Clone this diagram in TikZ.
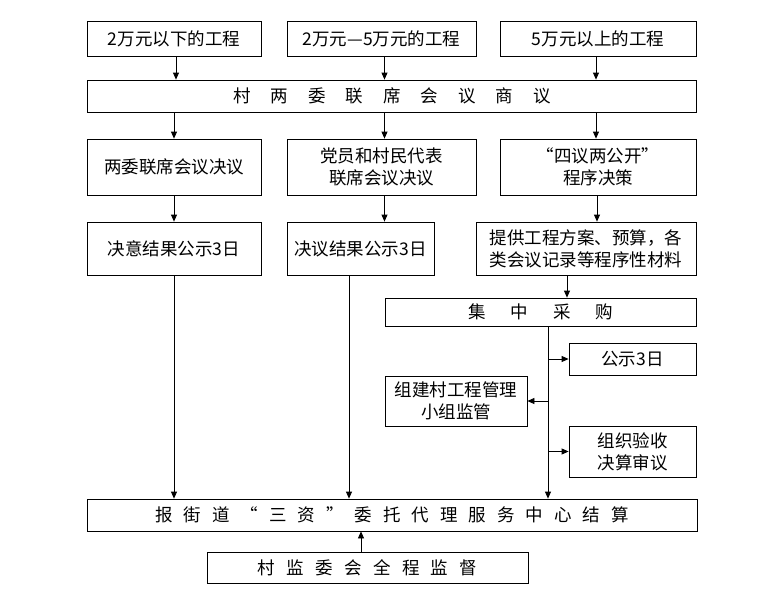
\documentclass[tikz,border=0pt]{standalone}
\usepackage{fontspec}
\setmainfont{Noto Sans CJK SC}
\usetikzlibrary{arrows.meta,calc}
\newcommand\myoq{\makebox[1em][r]{“}}
\newcommand\mycq{\makebox[1em][l]{”}}
\begin{document}
\begin{tikzpicture}[x=1pt,y=-1pt,
  box/.style={draw,line width=0.8pt,inner sep=0pt,align=center,font=\fontsize{17.5}{22}\selectfont},
  arr/.style={line width=0.8pt,-{Triangle[length=7pt,width=6pt]}},
  ln/.style={line width=0.8pt}]
\useasboundingbox[fill=white] (0,0) rectangle (772,595);
% row 1
\node[box,minimum width=174pt,minimum height=35pt] (t1) at (174,38.5) {2万元以下的工程};
\node[box,minimum width=189pt,minimum height=35pt] (t2) at (381.5,38.5) {2万元—5万元的工程};
\node[box,minimum width=196pt,minimum height=35pt] (t3) at (598,38.5) {5万元以上的工程};
% row 2
\node[box,minimum width=609pt,minimum height=32pt] (m) at (392,96) {\def\gx{\kern20pt}村\gx{}两\gx{}委\gx{}联\gx{}席\gx{}会\gx{}议\gx{}商\gx{}议};
% row 3
\node[box,minimum width=174pt,minimum height=56pt] (r3a) at (174,167) {两委联席会议决议};
\node[box,minimum width=189pt,minimum height=56pt] (r3b) at (381.5,167) {党员和村民代表\\联席会议决议};
\node[box,minimum width=196pt,minimum height=56pt] (r3c) at (598,167) {“四议两公开”\\程序决策};
% row 4
\node[box,minimum width=174pt,minimum height=53pt] (r4a) at (174,248.5) {决意结果公示3日};
\node[box,minimum width=147pt,minimum height=53pt] (r4b) at (360.5,248.5) {决议结果公示3日};
\node[box,minimum width=220pt,minimum height=53pt] (r4c) at (586,248.5) {提供工程方案、预算，各\\类会议记录等程序性材料};
% procurement
\node[box,minimum width=311pt,minimum height=28pt] (jz) at (540.5,312) {\def\gx{\kern25pt}集\gx{}中\gx{}采\gx{}购};
\node[box,minimum width=127pt,minimum height=32pt] (gs) at (632.5,359) {公示3日};
\node[box,minimum width=142pt,minimum height=50pt] (zj) at (456,401) {组建村工程管理\\小组监管};
\node[box,minimum width=127pt,minimum height=51pt] (ys) at (632.5,451.5) {组织验收\\决算审议};
% bottom
\node[box,minimum width=610pt,minimum height=32pt] (bj) at (392,515) {\def\gx{\kern11pt}报\gx{}街\gx{}道\gx{}\myoq\gx{}三\gx{}资\gx{}\mycq\gx{}委\gx{}托\gx{}代\gx{}理\gx{}服\gx{}务\gx{}中\gx{}心\gx{}结\gx{}算};
\node[box,minimum width=321pt,minimum height=31pt] (cj) at (367.5,567.5) {\def\gx{\kern11.4pt}村\gx{}监\gx{}委\gx{}会\gx{}全\gx{}程\gx{}监\gx{}督};
% connectors row1 -> row2
\draw[arr] ([xshift=2pt]t1.south) -- ([xshift=2pt]t1.south |- m.north);
\draw[arr] ([xshift=3pt]t2.south) -- ([xshift=3pt]t2.south |- m.north);
\draw[arr] ([xshift=-2pt]t3.south) -- ([xshift=-2pt]t3.south |- m.north);
% row2 -> row3
\draw[arr] (m.south -| r3a.north) -- (r3a.north);
\draw[arr] ([xshift=3pt]m.south -| r3b.north) -- ([xshift=3pt]r3b.north);
\draw[arr] ([xshift=-2pt]m.south -| r3c.north) -- ([xshift=-2pt]r3c.north);
% row3 -> row4
\draw[arr] (r3a.south) -- (r3a.south |- r4a.north);
\draw[arr] ([xshift=3pt]r3b.south) -- ([xshift=3pt]r3b.south |- r4b.north);
\draw[arr] ([xshift=-1pt]r3c.south) -- ([xshift=-1pt]r3c.south |- r4c.north);
% row4 -> procurement
\draw[arr] ([xshift=-19pt]r4c.south) -- ([xshift=-19pt]r4c.south |- jz.north);
% to bottom
\draw[arr] (r4a.south) -- (r4a.south |- bj.north);
\draw[arr] ([xshift=-11.5pt]r4b.south) -- ([xshift=-11.5pt]r4b.south |- bj.north);
\coordinate (sp) at ([xshift=7.5pt]jz.south);
\draw[arr] (sp) -- (sp |- bj.north);
\draw[arr] (sp |- gs.west) -- (gs.west);
\draw[arr] (sp |- zj.east) -- (zj.east);
\draw[arr] (sp |- ys.west) -- (ys.west);
\draw[arr] ([xshift=-6.5pt]cj.north) -- ([xshift=-6.5pt]cj.north |- bj.south);
\end{tikzpicture}
\end{document}
